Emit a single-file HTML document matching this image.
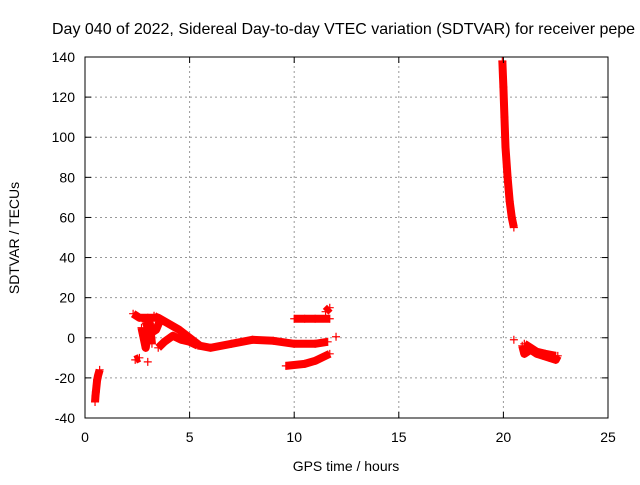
<!DOCTYPE html>
<html><head><meta charset="utf-8"><style>
body{margin:0;background:#fff;width:640px;height:480px;overflow:hidden;font-family:"Liberation Sans",sans-serif}
</style></head><body>
<svg id="chart" width="640" height="480" xmlns="http://www.w3.org/2000/svg" font-family="Liberation Sans, sans-serif">
<text x="52" y="34" font-size="16" fill="#000">Day 040 of 2022, Sidereal Day-to-day VTEC variation (SDTVAR) for receiver pepe</text>
<text x="346" y="471" font-size="14" text-anchor="middle">GPS time / hours</text>
<text transform="translate(19,238) rotate(-90)" font-size="14" text-anchor="middle">SDTVAR / TECUs</text>
<g id="grid"></g><g id="marks"></g>
<rect x="85" y="57" width="523" height="361" fill="none" stroke="#000" stroke-width="1"/>
<g id="ticks"></g>
</svg>
<script>
const xTicks=[0,5,10,15,25,20];
const yTicks=[-40,-20,0,20,40,60,80,100,120,140];
const trace1=[[0.48,-32],[0.5,-29],[0.52,-27],[0.55,-24],[0.58,-21],[0.62,-19],[0.7,-16]];
const trace2=[[2.3,12],[2.6,10],[3,10],[3.5,10],[4,7],[4.5,4],[5,0],[5.5,-4],[6,-5],[7,-3],[8,-1],[9,-1.5],[10,-3],[11,-3],[11.6,-2]];
const trace3=[[3.5,-5],[3.8,-2],[4.2,1],[4.6,-1],[5,-2],[5.4,-4]];
const trace4=[[2.4,-11],[2.6,-10]];
const trace5=[[2.7,5],[2.9,-5],[3.1,7],[3.2,-3]];
const trace6=[[10,9.5],[10.5,9.5],[11,9.5],[11.7,9.5]];
const trace7=[[11.5,13],[11.7,15]];
const trace8=[[9.6,-14],[10.5,-13],[11,-11.5],[11.5,-9],[11.7,-8]];
const trace9=[[12,0.5]];
const trace10=[[3,-12]];
const trace11=[[19.95,138],[19.98,130],[20.0,125],[20.05,110],[20.1,95],[20.2,80],[20.3,68],[20.4,60],[20.5,55]];
const trace12=[[20.5,-1]];
const trace13=[[20.9,-4],[21,-8],[21.3,-6],[21.6,-8],[21.9,-9],[22.2,-10],[22.5,-11],[22.6,-9]];
const trace14=[[21,-3],[21.3,-5],[21.6,-7],[22,-8],[22.5,-9]];
const trace15=[[3.3,11],[3.6,9],[3.4,4],[3.1,2],[2.9,8]];
const traces=[trace1,trace2,trace3,trace4,trace5,trace6,trace7,trace8,trace9,trace10,trace11,trace12,trace13,trace14,trace15];
const X0=85,X1=608,Y0=418,Y1=57;
const sx=v=>X0+(v-0)/25*(X1-X0);
const sy=v=>Y0-(v+40)/180*(Y0-Y1);
const NS="http://www.w3.org/2000/svg";
const grid=document.getElementById('grid'),ticks=document.getElementById('ticks'),marks=document.getElementById('marks');
function mk(tag,attrs,parent){const e=document.createElementNS(NS,tag);for(const k in attrs)e.setAttribute(k,attrs[k]);parent.appendChild(e);return e;}
xTicks.forEach(t=>{const x=sx(t);
 if(t>0&&t<25){const g=mk('line',{x1:x,x2:x,y1:Y0,y2:Y1,stroke:'#999','stroke-dasharray':'2,3'},grid);
 
 }
 mk('line',{x1:x,x2:x,y1:Y0,y2:Y0-6,stroke:'#000'},ticks);mk('line',{x1:x,x2:x,y1:Y1,y2:Y1+6,stroke:'#000'},ticks);
 const l=mk('text',{x:x,y:Y0+24,'font-size':14,'text-anchor':'middle'},ticks);l.textContent=t;
 
 });
yTicks.forEach(t=>{const y=sy(t);
 if(t>-40&&t<140){const g=mk('line',{x1:X0,x2:X1,y1:y,y2:y,stroke:'#999','stroke-dasharray':'2,3'},grid);
 
 }
 mk('line',{x1:X0,x2:X0+6,y1:y,y2:y,stroke:'#000'},ticks);mk('line',{x1:X1,x2:X1-6,y1:y,y2:y,stroke:'#000'},ticks);
 const l=mk('text',{x:X0-10,y:y+5,'font-size':14,'text-anchor':'end'},ticks);l.textContent=t;
 
 });
traces.forEach(tr=>{
 if(tr.length>1){const p=mk('polyline',{points:tr.map(d=>sx(d[0])+','+sy(d[1])).join(' '),fill:'none',stroke:'#f00','stroke-width':8,'stroke-linejoin':'round'},marks);
 
 }
 tr.forEach(d=>{const x=sx(d[0]),y=sy(d[1]);
  const g=mk('path',{d:`M${x-4},${y}H${x+4}M${x},${y-4}V${y+4}`,stroke:'#f00','stroke-width':1.2},marks);
  
  });
});
</script>
</body></html>
